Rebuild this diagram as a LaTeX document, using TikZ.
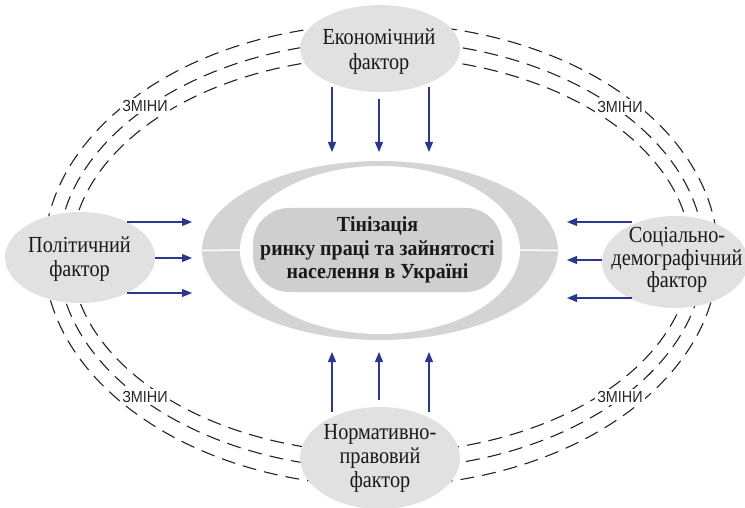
\documentclass[tikz,border=0pt]{standalone}
\usepackage{fontspec}
\setmainfont{Liberation Serif}[FakeStretch=0.88]
\newfontfamily\corefont{Liberation Serif}[FakeStretch=0.925]
\newfontfamily\labelfont{Liberation Sans}[FakeStretch=0.9]
\usetikzlibrary{arrows.meta,calc,shapes.geometric}
\definecolor{ringgray}{RGB}{212,212,212}
\definecolor{coregray}{RGB}{207,207,207}
\definecolor{factgray}{RGB}{225,225,225}
\definecolor{arrblue}{RGB}{42,56,142}
\definecolor{dashcol}{RGB}{35,35,35}
\begin{document}
\begin{tikzpicture}[x=1pt,y=-1pt,
  factor/.style={ellipse, fill=factgray, inner sep=0pt},
  ftext/.style={font=\fontsize{23}{25}\selectfont, align=center, text=black!90},
  arr/.style={draw=arrblue, line width=1.1pt, -{Triangle[length=10pt,width=8pt]}},
  orbit/.style={draw=dashcol, line width=1.1pt, dash pattern=on 14pt off 8pt},
  zmini/.style={fill=white, inner sep=2.5pt, font=\labelfont\fontsize{16}{16}\selectfont, text=black!85}]
\useasboundingbox (0,0) rectangle (745,508);
% orbits of change
\draw[orbit] (381,255) ellipse [x radius=337pt, y radius=231pt];
\draw[orbit] (381,255) ellipse [x radius=323pt, y radius=214pt];
\draw[orbit] (381,255) ellipse [x radius=310pt, y radius=198pt];
% labels on the orbits
\node[zmini] (z1) at (145,106) {ЗМІНИ};
\node[zmini] (z2) at (620,107) {ЗМІНИ};
\node[zmini] (z3) at (145,397) {ЗМІНИ};
\node[zmini] (z4) at (620,397) {ЗМІНИ};
% central ring
\node[ellipse, fill=ringgray, minimum width=356pt, minimum height=179pt, inner sep=0pt] (ring) at (380,250.5) {};
\node[ellipse, fill=white, minimum width=280pt, minimum height=168pt, inner sep=0pt] (ringin) at (380,250) {};
\draw[white, line width=1.5pt] (ring.west) -- (ringin.west);
\draw[white, line width=1.5pt] (ringin.east) -- (ring.east);
\node[rounded corners=36pt, fill=coregray, minimum width=249pt, minimum height=84pt, inner sep=0pt,
      font=\corefont\bfseries\fontsize{21.5}{23.7}\selectfont, align=center, text=black!90] (core) at (377.5,250)
      {Тінізація\\ринку праці та зайнятості\\населення в Україні};
% factors
\node[factor, minimum width=160pt, minimum height=87pt] (eco) at (380,48.5) {};
\node[ftext] (ecot) at (379,52) {Економічний\\фактор};
\node[factor, minimum width=150pt, minimum height=91pt] (pol) at (80,257.5) {};
\node[ftext, font=\fontsize{23}{24}\selectfont] (polt) at (79.5,259) {Політичний\\фактор};
\node[factor, minimum width=146pt, minimum height=92pt] (soc) at (675,262) {};
\node[ftext, font=\fontsize{23}{22.5}\selectfont] (soct) at (677,260) {Соціально-\\демографічний\\фактор};
\node[factor, minimum width=160pt, minimum height=102pt] (nor) at (380,458) {};
\node[ftext, font=\fontsize{23}{24}\selectfont] (nort) at (380,458) {Нормативно-\\правовий\\фактор};
% arrows: top
\draw[arr] ($(eco)+(-48,38.5)$) -- ($(ring)+(-48,-98.5)$);
\draw[arr] ($(eco)+(-1,50.5)$) -- ($(ring)+(-1,-98.5)$);
\draw[arr] ($(eco)+(49,38.5)$) -- ($(ring)+(49,-98.5)$);
% arrows: left
\draw[arr] ($(pol)+(47,-35.5)$) -- ($(ring)+(-188,-28.5)$);
\draw[arr] ($(pol)+(75,0.5)$) -- ($(ring)+(-188,7.5)$);
\draw[arr] ($(pol)+(47,35.5)$) -- ($(ring)+(-188,42.5)$);
% arrows: right
\draw[arr] ($(soc)+(-43,-40)$) -- ($(ring)+(187,-28.5)$);
\draw[arr] ($(soc)+(-73,-2)$) -- ($(ring)+(187,9.5)$);
\draw[arr] ($(soc)+(-43,36)$) -- ($(ring)+(187,47.5)$);
% arrows: bottom
\draw[arr] ($(nor)+(-48,-46)$) -- ($(ring)+(-48,101.5)$);
\draw[arr] ($(nor)+(-1,-58)$) -- ($(ring)+(-1,101.5)$);
\draw[arr] ($(nor)+(49,-46)$) -- ($(ring)+(49,101.5)$);
\end{tikzpicture}
\end{document}
